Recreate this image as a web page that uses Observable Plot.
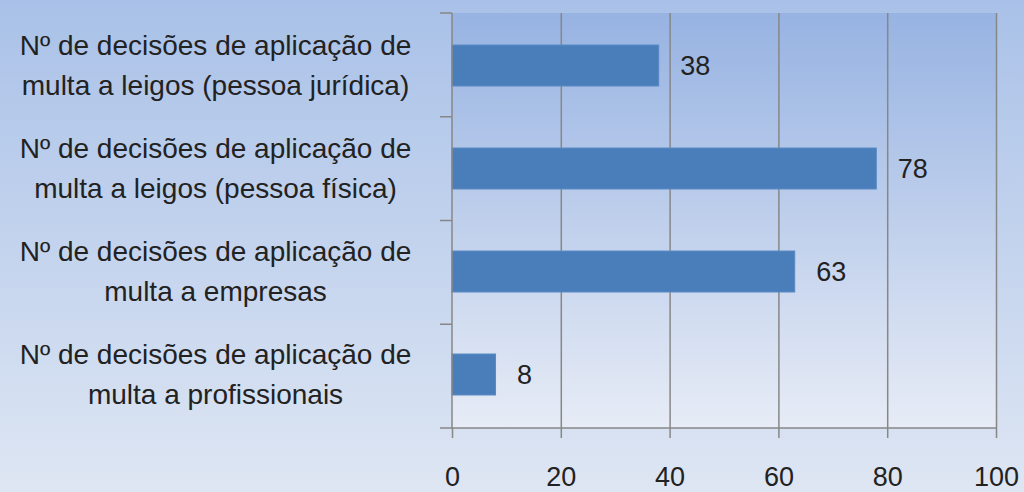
<!DOCTYPE html>
<html>
<head>
<meta charset="utf-8">
<script src="https://cdn.jsdelivr.net/npm/d3@7"></script>
<script src="https://cdn.jsdelivr.net/npm/@observablehq/plot@0.6"></script>
<style>
  html, body { margin: 0; padding: 0; background: #c4d3ee; }
  #chart svg { display: block; }
</style>
</head>
<body>
<div id="chart"></div>
<script>
const categories = [
  "Nº de decisões de aplicação de\nmulta a leigos (pessoa jurídica)",
  "Nº de decisões de aplicação de\nmulta a leigos (pessoa física)",
  "Nº de decisões de aplicação de\nmulta a empresas",
  "Nº de decisões de aplicação de\nmulta a profissionais"
];
const values = [38, 78, 63, 8];
const xTicks = [0, 20, 40, 60, 80, 100];

const rows = categories.map((c, i) => ({cat: c, value: values[i]}));

const axisColor = "#878787";

function background(index, scales, vals, dims) {
  const {width, height, marginTop, marginBottom, marginLeft, marginRight} = dims;
  const g = d3.create("svg:g");
  const defs = g.append("defs");
  const lg = defs.append("linearGradient").attr("id", "plotbg")
    .attr("x1", 0).attr("y1", 0).attr("x2", 0).attr("y2", 1);
  lg.append("stop").attr("offset", "0%").attr("stop-color", "#97b3e2");
  lg.append("stop").attr("offset", "100%").attr("stop-color", "#e7ecf6");
  g.append("rect")
    .attr("x", marginLeft).attr("y", marginTop)
    .attr("width", width - marginLeft - marginRight)
    .attr("height", height - marginTop - marginBottom)
    .attr("fill", "url(#plotbg)");
  return g.node();
}

function axesLines(index, scales, vals, dims) {
  const {width, height, marginTop, marginBottom, marginLeft, marginRight} = dims;
  const g = d3.create("svg:g").attr("stroke", axisColor).attr("stroke-width", 1.5).attr("fill", "none");
  const bottom = height - marginBottom;
  const right = width - marginRight;
  g.append("line").attr("x1", marginLeft).attr("x2", marginLeft).attr("y1", marginTop).attr("y2", bottom);
  g.append("line").attr("x1", marginLeft).attr("x2", right).attr("y1", bottom).attr("y2", bottom);
  const n = categories.length;
  const step = (bottom - marginTop) / n;
  for (let i = 0; i <= n; i++) {
    const y = marginTop + i * step;
    g.append("line").attr("x1", marginLeft - 12).attr("x2", marginLeft).attr("y1", y).attr("y2", y);
  }
  return g.node();
}

const chart = Plot.plot({
  width: 1024,
  height: 492,
  marginLeft: 452,
  marginRight: 28,
  marginTop: 13,
  marginBottom: 64,
  style: {
    fontFamily: "'Liberation Sans', Arial, sans-serif",
    fontSize: "27px",
    color: "#222",
    background: "linear-gradient(#a9c1e8, #dee6f3)"
  },
  x: {domain: [0, 100], axis: null},
  y: {domain: categories, axis: null, paddingInner: 0.6, paddingOuter: 0.3},
  marks: [
    background,
    Plot.gridX(xTicks.slice(1), {stroke: axisColor, strokeOpacity: 1, strokeWidth: 1.5}),
    Plot.barX(rows, {x: "value", y: "cat", fill: "#4a7ebb", stroke: "#5a8ac4", strokeWidth: 1}),
    axesLines,
    Plot.axisX({ticks: xTicks, tickSize: 10, tickPadding: 28, label: null, stroke: axisColor, strokeWidth: 1.5, fill: "#222", tickFormat: d => String(d)}),
    Plot.text(rows, {x: "value", y: "cat", text: d => String(d.value), dx: 21, textAnchor: "start", fill: "#222"}),
    Plot.text(rows, {y: "cat", text: "cat", frameAnchor: "left", dx: -237, dy: -4, textAnchor: "middle", lineHeight: 1.42, fontSize: 28, fill: "#222"})
  ]
});
document.getElementById("chart").append(chart);
</script>
</body>
</html>
